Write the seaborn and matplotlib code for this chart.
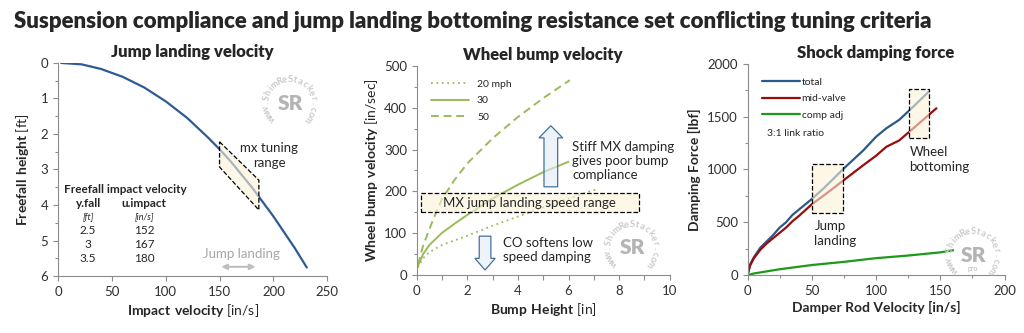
import numpy as np
import matplotlib
matplotlib.use('Agg')
import matplotlib.pyplot as plt
from matplotlib.patches import Polygon, Rectangle
from matplotlib.transforms import offset_copy
import seaborn as sns

# - data - #
# jump landing: impact velocity [in/s] vs freefall height [ft]
impact_vel = [3, 22, 40, 60, 80, 100, 120, 140, 150, 160, 180, 200, 220, 231]
fall_height = [0, 0.04, 0.17, 0.39, 0.69, 1.08, 1.55, 2.12, 2.43, 2.76, 3.5, 4.32, 5.22, 5.76]
tbl_fall = ['2.5', '3', '3.5']
tbl_impact = ['152', '167', '180']

# wheel bump velocity [in/sec] vs bump height [in]
bump_20 = [0.05, 0.25, 0.5, 1, 1.5, 2, 3, 4, 5, 6, 7.1]
vel_20 = [18, 40, 55, 72, 83, 94, 118, 140, 162, 183, 205]
bump_30 = [0.05, 0.25, 0.5, 1, 1.5, 2, 3, 4, 5, 6.0]
vel_30 = [22, 50, 72, 101, 123, 144, 183, 216, 246, 271]
bump_50 = [0.05, 0.25, 0.5, 0.8, 1, 1.5, 2, 3, 4, 5, 6.05]
vel_50 = [25, 70, 110, 155, 182, 228, 267, 327, 378, 423, 466]
speeds = ['20 mph', '30', '50']

# shock damping force [lbf] vs rod velocity [in/s]
rod_vel = [0, 2, 5, 10, 15, 20, 25, 30, 35, 40, 50, 60, 75, 90, 100, 108, 118, 129, 141]
f_total = [0, 100, 170, 260, 320, 380, 450, 500, 570, 620, 720, 830, 1011, 1180, 1310, 1390, 1470, 1595, 1738]
rod_vel_mv = [0, 2, 5, 10, 15, 20, 25, 30, 35, 40, 50, 60, 75, 90, 100, 108, 118, 129, 147]
f_midvalve = [0, 90, 160, 240, 300, 350, 400, 450, 510, 560, 670, 760, 900, 1040, 1130, 1215, 1275, 1390, 1580]
rod_vel_ca = [0, 5, 10, 25, 50, 75, 100, 125, 150, 160]
f_compadj = [0, 15, 25, 55, 95, 125, 160, 185, 215, 235]

############################################################################

sns.set_style('ticks')
plt.rcParams['font.family'] = ['Lato', 'DejaVu Sans']
plt.rcParams['mathtext.fontset'] = 'custom'
plt.rcParams['mathtext.rm'] = 'Lato'
plt.rcParams['mathtext.bf'] = 'Lato:bold'
plt.rcParams['axes.edgecolor'] = '#8c8c8c'
plt.rcParams['xtick.color'] = '#8c8c8c'
plt.rcParams['ytick.color'] = '#8c8c8c'
plt.rcParams['xtick.labelcolor'] = '#303030'
plt.rcParams['ytick.labelcolor'] = '#303030'
plt.rcParams['xtick.labelsize'] = 9.5
plt.rcParams['ytick.labelsize'] = 9.5

fig = plt.figure(figsize=(10.24, 3.33), dpi=100)
fig.text(0.014, 0.935, 'Suspension compliance and jump landing bottoming resistance set conflicting tuning criteria',
         fontsize=16, fontweight='heavy', va='center', ha='left')

ax1 = fig.add_axes([0.0566, 0.171, 0.263, 0.640])
ax2 = fig.add_axes([0.407, 0.174, 0.247, 0.628])
ax3 = fig.add_axes([0.730, 0.174, 0.251, 0.634])

cream = '#fdf2d8'


def stamp(cx, cy, sub=None):
    # circular watermark (figure fraction center)
    txt = 'www.ShimReStacker.com'
    angs = np.linspace(220, -40, len(txt))
    r = 17
    for ch, a in zip(txt, angs):
        tr = offset_copy(fig.transFigure, fig=fig, x=r*np.cos(np.radians(a)),
                         y=r*np.sin(np.radians(a)), units='points')
        fig.text(cx, cy, ch, transform=tr, ha='center', va='center', rotation=a-90,
                 fontsize=6.5, color='#cacaca', fontweight='bold', zorder=10)
    fig.text(cx, cy, 'SR', ha='center', va='center', fontsize=15, fontweight='heavy', color='#b4b4b4', zorder=10)
    if sub:
        fig.text(cx, cy-0.042, sub, ha='center', va='center', fontsize=5, color='#b4b4b4', zorder=10)


for ax in (ax1, ax2, ax3):
    sns.despine(ax=ax)
    ax.tick_params(which='both', direction='out', length=3.5, width=0.8)
    ax.tick_params(which='minor', length=2.5)

# --- panel 1: jump landing velocity ---
sns.lineplot(x=impact_vel, y=fall_height, ax=ax1, color='#2f5b95', lw=1.6, sort=False)
ax1.set_xlim(0, 250)
ax1.set_ylim(6, 0)
ax1.set_xticks(np.arange(0, 251, 50))
ax1.set_yticks(np.arange(0, 7, 1))
ax1.set_yticks(np.arange(0, 6.1, 0.5), minor=True)
ax1.set_title('Jump landing velocity', fontsize=12, fontweight='heavy', pad=4)
ax1.set_xlabel(r'$\mathbf{Impact\ velocity}$ [in/s]', fontsize=10, labelpad=3)
ax1.set_ylabel(r'$\mathbf{Freefall\ height}$ [ft]', fontsize=10, labelpad=7)
ax1.add_patch(Polygon([(150, 2.22), (186.5, 3.3), (186.5, 4.14), (150, 2.93)], closed=True,
                      facecolor=cream, alpha=0.6, edgecolor='none', zorder=3))
ax1.add_patch(Polygon([(150, 2.22), (186.5, 3.3), (186.5, 4.14), (150, 2.93)], closed=True,
                      fill=False, edgecolor='black', ls='--', lw=0.9, zorder=4))
ax1.text(196, 2.6, 'mx tuning\nrange', ha='center', va='center', fontsize=9.5, linespacing=1.3)
ax1.text(63, 3.55, 'Freefall impact velocity', ha='center', va='center', fontsize=8.5, fontweight='bold')
ax1.text(28, 3.97, 'y.fall', ha='center', va='center', fontsize=8.5, fontweight='bold')
ax1.text(80, 3.97, 'u.impact', ha='center', va='center', fontsize=8.5, fontweight='bold')
ax1.text(28, 4.33, '[ft]', ha='center', va='center', fontsize=6.5, style='italic')
ax1.text(80, 4.33, '[in/s]', ha='center', va='center', fontsize=6.5, style='italic')
for i, (a, b) in enumerate(zip(tbl_fall, tbl_impact)):
    ax1.text(28, 4.72 + 0.39*i, a, ha='center', va='center', fontsize=8.5)
    ax1.text(80, 4.72 + 0.39*i, b, ha='center', va='center', fontsize=8.5)
ax1.text(170, 5.38, 'Jump landing', ha='center', va='center', fontsize=9.5, color='#a6a6a6')
ax1.annotate('', xy=(186, 5.74), xytext=(149, 5.74),
             arrowprops=dict(arrowstyle='<|-|>', color='#bfbfbf', lw=1.5, mutation_scale=8))

# --- panel 2: wheel bump velocity ---
green = '#9bbb59'
sns.lineplot(x=bump_20, y=vel_20, ax=ax2, color=green, lw=1.3, ls=(0, (1, 2)), label=speeds[0])
sns.lineplot(x=bump_30, y=vel_30, ax=ax2, color=green, lw=1.4, label=speeds[1])
sns.lineplot(x=bump_50, y=vel_50, ax=ax2, color=green, lw=1.4, ls=(0, (4, 2.5)), label=speeds[2])
ax2.set_xlim(0, 10)
ax2.set_ylim(0, 500)
ax2.set_xticks(np.arange(0, 11, 2))
ax2.set_xticks(np.arange(0, 11, 1), minor=True)
ax2.set_yticks(np.arange(0, 501, 100))
ax2.set_yticks(np.arange(0, 501, 50), minor=True)
ax2.tick_params(axis='x', which='minor', length=3.5)
ax2.set_title('Wheel bump velocity', fontsize=12, fontweight='heavy', pad=4)
ax2.set_xlabel(r'$\mathbf{Bump\ Height}$ [in]', fontsize=10, labelpad=3)
ax2.set_ylabel(r'$\mathbf{Wheel\ bump\ velocity}$ [in/sec]', fontsize=10, labelpad=3)
ax2.legend(loc='upper left', bbox_to_anchor=(0.02, 0.98), frameon=False, fontsize=7.5,
           handlelength=3.6, labelspacing=0.7, handletextpad=0.8)
ax2.add_patch(Rectangle((0.18, 150), 8.6, 45, facecolor=cream, alpha=0.6, edgecolor='none', zorder=3))
ax2.add_patch(Rectangle((0.18, 150), 8.6, 45, fill=False, edgecolor='black', ls='--', lw=0.9, zorder=4))
ax2.text(4.47, 172, 'MX jump landing speed range', ha='center', va='center', fontsize=9.5, zorder=5)
up = [(5.03, 211), (5.57, 211), (5.57, 328), (5.77, 328), (5.3, 357), (4.83, 328), (5.03, 328)]
ax2.add_patch(Polygon(up, closed=True, facecolor='#e3ecf6', alpha=0.6, edgecolor='none', zorder=3))
ax2.add_patch(Polygon(up, closed=True, fill=False, edgecolor='#41719c', lw=0.9, zorder=4))
dn = [(2.47, 93), (2.93, 93), (2.93, 40), (3.1, 40), (2.7, 12), (2.3, 40), (2.47, 40)]
ax2.add_patch(Polygon(dn, closed=True, facecolor='#e3ecf6', alpha=0.6, edgecolor='none', zorder=3))
ax2.add_patch(Polygon(dn, closed=True, fill=False, edgecolor='#41719c', lw=0.9, zorder=4))
ax2.text(6.15, 272, 'Stiff MX damping\ngives poor bump\ncompliance', ha='left', va='center', fontsize=9.5,
         linespacing=1.2)
ax2.text(3.4, 59, 'CO softens low\nspeed damping', ha='left', va='center', fontsize=9.5, linespacing=1.2)

# --- panel 3: shock damping force ---
sns.lineplot(x=rod_vel, y=f_total, ax=ax3, color='#2a5a8c', lw=1.6, label='total')
sns.lineplot(x=rod_vel_mv, y=f_midvalve, ax=ax3, color='#9a0c0c', lw=1.6, label='mid-valve')
sns.lineplot(x=rod_vel_ca, y=f_compadj, ax=ax3, color='#1b9a1b', lw=1.6, label='comp adj')
ax3.set_xlim(0, 200)
ax3.set_ylim(0, 2000)
ax3.set_xticks(np.arange(0, 201, 50))
ax3.set_xticks(np.arange(0, 201, 25), minor=True)
ax3.set_yticks(np.arange(0, 2001, 500))
ax3.set_yticks(np.arange(0, 2001, 250), minor=True)
ax3.set_title('Shock damping force', fontsize=12, fontweight='heavy', pad=4)
ax3.set_xlabel('Damper Rod Velocity [in/s]', fontsize=10, fontweight='bold', labelpad=3)
ax3.set_ylabel('Damping Force [lbf]', fontsize=10, fontweight='bold', labelpad=4)
ax3.legend(loc='upper left', bbox_to_anchor=(0.02, 0.98), frameon=False, fontsize=7.5,
           handlelength=3.6, labelspacing=0.7, handletextpad=0.2)
ax3.text(15, 1345, '3:1 link ratio', ha='left', va='center', fontsize=7.5)
for (x0, y0, w, h) in [(50.3, 585, 24, 470), (125.5, 1295, 15.6, 470)]:
    ax3.add_patch(Rectangle((x0, y0), w, h, facecolor=cream, alpha=0.6, edgecolor='none', zorder=3))
    ax3.add_patch(Rectangle((x0, y0), w, h, fill=False, edgecolor='black', ls='--', lw=0.9, zorder=4))
ax3.text(52, 390, 'Jump\nlanding', ha='left', va='center', fontsize=9.5, linespacing=1.3)
ax3.text(126, 1098, 'Wheel\nbottoming', ha='left', va='center', fontsize=9.5, linespacing=1.3)

stamp(290/1024, 1-103/333)
stamp(632/1024, 1-248/333)
stamp(973/1024, 1-255/333, sub='pro')

fig.savefig('out.png', dpi=100)
